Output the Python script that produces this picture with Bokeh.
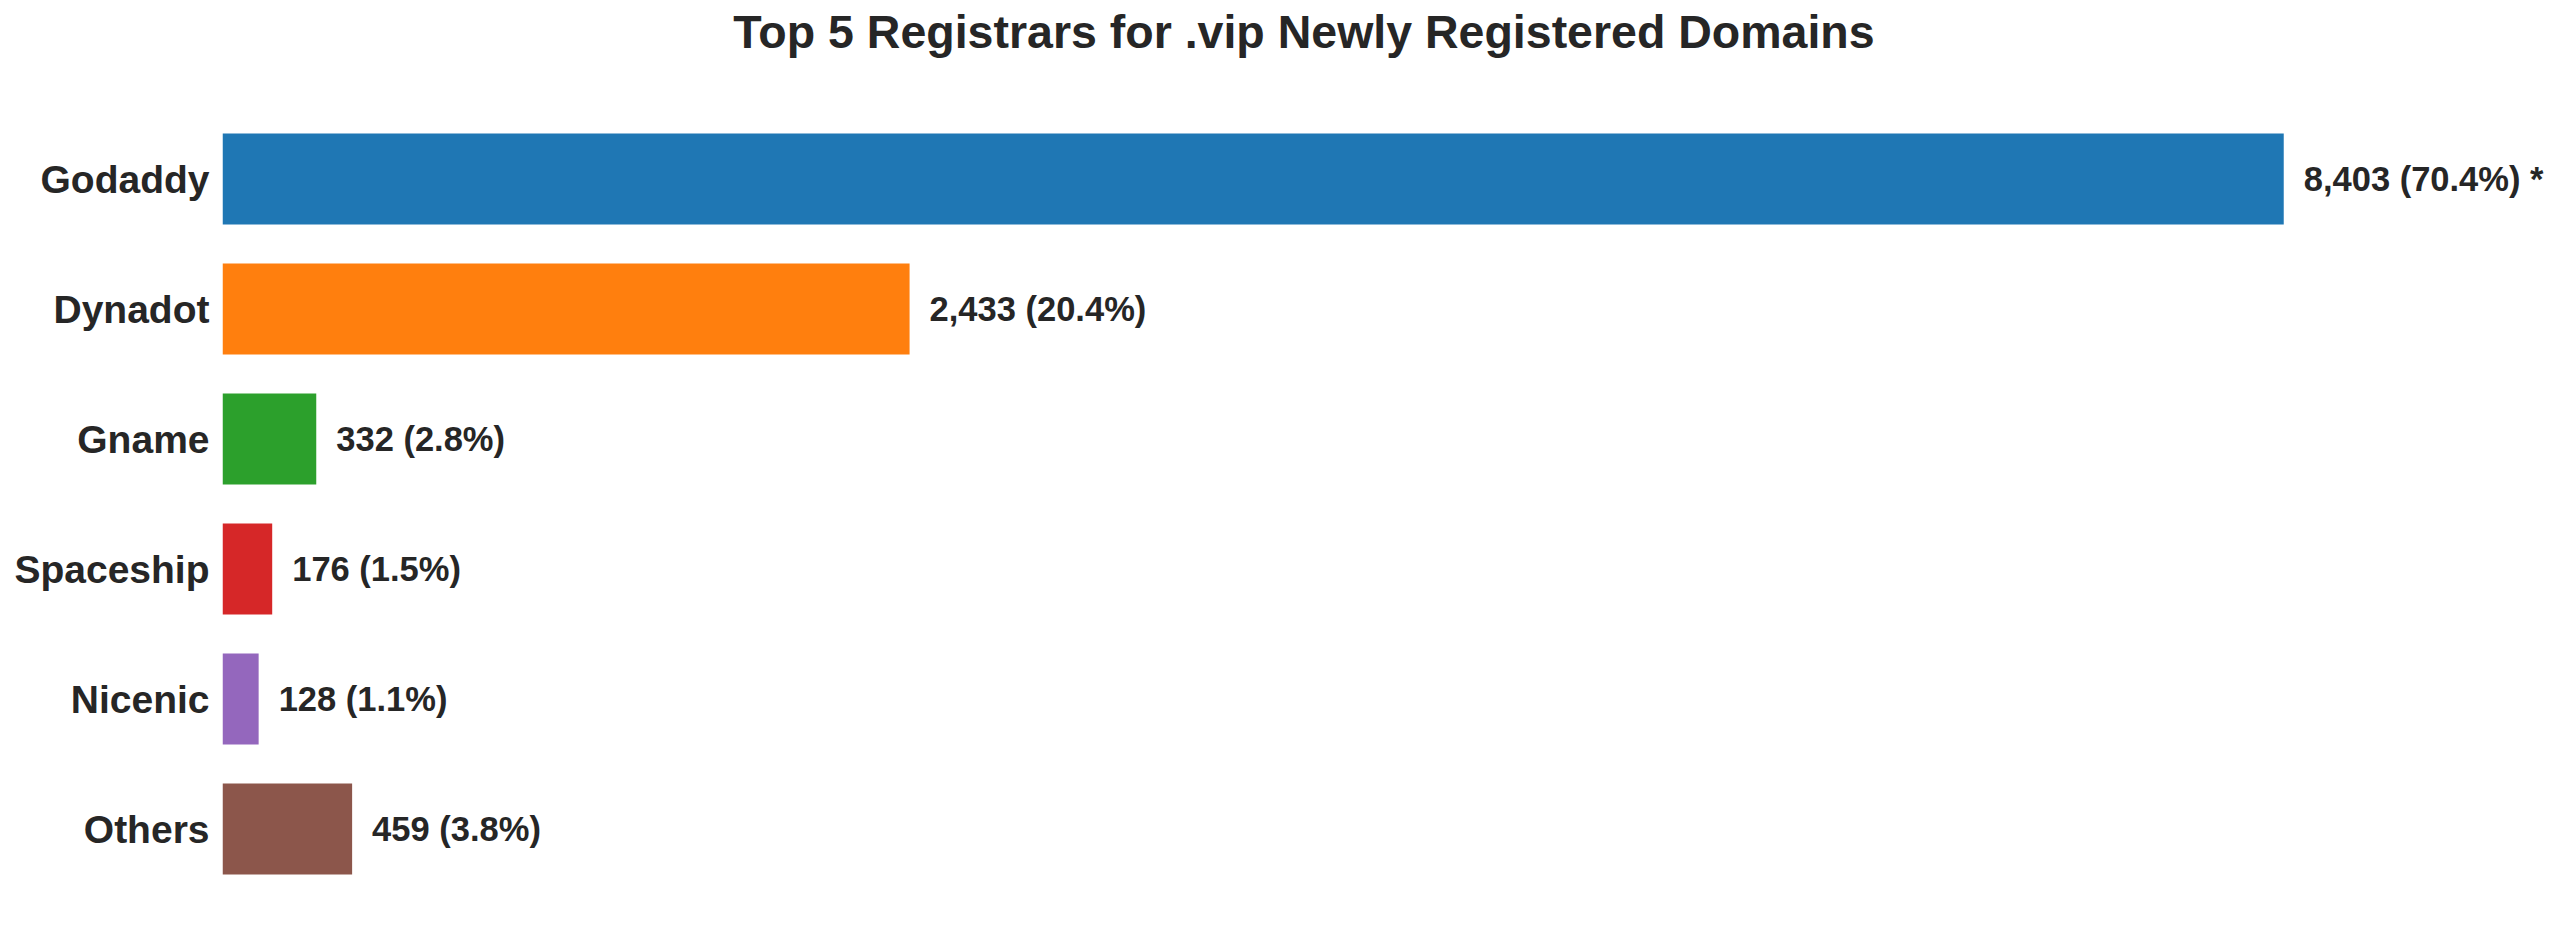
from bokeh.plotting import figure
from bokeh.models import ColumnDataSource, Range1d, FixedTicker, Label
from bokeh.core.properties import value
from bokeh.embed import file_html
from bokeh.resources import INLINE

# ---- data ----
registrars = ["Godaddy", "Dynadot", "Gname", "Spaceship", "Nicenic", "Others"]
counts = [8403, 2433, 332, 176, 128, 459]
title_text = "Top 5 Registrars for .vip Newly Registered Domains"
palette = ["#1f77b4", "#ff7f0e", "#2ca02c", "#d62728", "#9467bd", "#8c564b"]

total = sum(counts)
cap = 3 * sorted(counts)[-2]          # longest bar is truncated (marked with *)
shown = [min(c, cap) for c in counts]
labels = [f"{c:,} ({c / total * 100:.1f}%)" + (" *" if c > cap else "") for c in counts]
ypos = list(range(len(registrars)))

# ---- layout (pixels) ----
W, H = 2544, 909
LEFT = 222                 # frame left inside figure
PX_PER_UNIT = 0.2824       # x scale
ROW = 130.0                # px per category row
FIRST_CENTER = 178.5       # px from figure top to first bar centre
FONT = "Liberation Sans"
INK = "#262626"

x_end = (W - LEFT) / PX_PER_UNIT
y_top = -FIRST_CENTER / ROW
y_bottom = (H - FIRST_CENTER) / ROW

src = ColumnDataSource(dict(y=ypos, shown=shown, color=palette, label=labels))

p = figure(width=W, height=H, output_backend="svg", toolbar_location=None,
           x_range=Range1d(0, x_end), y_range=Range1d(y_bottom, y_top),
           x_axis_location=None, min_border_left=LEFT, min_border_right=0,
           min_border_top=0, min_border_bottom=0, tools="")
p.outline_line_color = None
p.xgrid.visible = False
p.ygrid.visible = False
p.background_fill_color = "white"
p.border_fill_color = "white"

p.hbar(y="y", left=0, right="shown", height=0.7, fill_color="color",
       line_color=None, source=src)

p.text(x="shown", y="y", text="label", source=src, x_offset=20,
       text_baseline="middle", text_align="left", text_font=value(FONT),
       text_font_style="bold", text_font_size="34.5px", text_color=INK)

ax = p.yaxis[0]
ax.ticker = FixedTicker(ticks=ypos)
ax.major_label_overrides = {i: n for i, n in zip(ypos, registrars)}
ax.axis_line_color = None
ax.major_tick_line_color = None
ax.minor_tick_line_color = None
ax.major_tick_out = 0
ax.major_tick_in = 0
ax.major_label_standoff = 13
ax.major_label_text_font = FONT
ax.major_label_text_font_style = "bold"
ax.major_label_text_font_size = "39px"
ax.major_label_text_color = INK

# title centred horizontally at px 1303.5, vertically at px 31
title_x = (1303.5 - LEFT) / PX_PER_UNIT
title_y = (31 - FIRST_CENTER) / ROW
p.add_layout(Label(x=title_x, y=title_y, text=title_text, text_align="center",
                   text_baseline="middle", text_font=FONT,
                   text_font_style="bold", text_font_size="46.5px", text_color=INK))

open("out.html", "w").write(file_html(p, INLINE))
